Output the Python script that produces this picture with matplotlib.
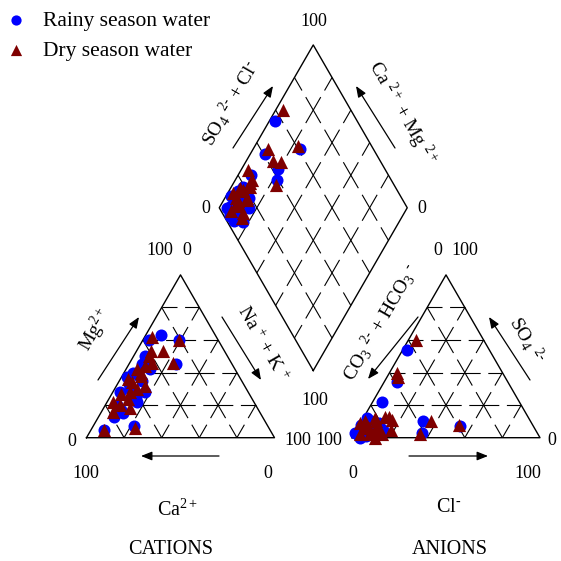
"""
    Piper diagram, rainy vs dry season water
"""

import numpy as np
import matplotlib
matplotlib.use('Agg')
import matplotlib.pyplot as plt

plt.rcParams['font.family'] = ['Liberation Serif', 'DejaVu Serif']
plt.rcParams['mathtext.fontset'] = 'custom'
plt.rcParams['mathtext.rm'] = 'Liberation Serif'
plt.rcParams['mathtext.it'] = 'Liberation Serif'
plt.rcParams['mathtext.default'] = 'regular'
plt.rcParams['lines.scale_dashes'] = False

# sample compositions in % meq (cations / anions)
rainy_ca = [37, 29, 30, 21, 71, 48, 88, 44, 45, 55, 53, 62, 61, 74, 73, 62, 68, 53, 79, 73, 45, 61, 60, 55]
rainy_mg = [60, 63, 45, 60, 7, 45, 5, 50, 45, 40, 35, 30, 25, 20, 17, 22, 28, 38, 13, 15, 42, 33, 37, 28]
rainy_nak = [3, 8, 25, 19, 22, 7, 7, 6, 10, 5, 12, 8, 14, 6, 10, 16, 4, 9, 8, 12, 13, 6, 3, 17]
rainy_hco3 = [44, 59, 39, 57, 61, 73, 96, 88, 93, 85, 89, 86, 84, 93, 91, 84, 96, 87, 97, 96, 81, 81, 90, 92]
rainy_so4 = [54, 34, 7, 10, 3, 22, 2, 8, 5, 10, 3, 12, 6, 2, 8, 4, 1, 6, 3, 0, 9, 5, 4, 1]
rainy_cl = [2, 7, 54, 33, 36, 5, 2, 4, 2, 5, 8, 2, 10, 5, 1, 12, 3, 7, 0, 4, 10, 14, 6, 7]

dry_ca = [34, 39, 31, 21, 71, 51, 88, 33, 42, 42, 52, 52, 59, 58, 68, 66, 72, 68, 75, 53, 60, 78, 47, 63]
dry_mg = [62, 53, 46, 60, 6, 40, 5, 53, 50, 46, 42, 38, 34, 30, 27, 24, 20, 18, 22, 32, 36, 16, 44, 28]
dry_nak = [4, 8, 23, 19, 23, 9, 7, 14, 8, 12, 6, 10, 7, 12, 5, 10, 8, 14, 3, 15, 4, 6, 9, 9]
dry_hco3 = [36, 56, 39, 53, 63, 76, 95, 57, 89, 82, 84, 89, 82, 83, 83, 77, 88, 89, 88, 91, 73, 88, 89, 74]
dry_so4 = [60, 40, 8, 10, 2, 13, 2, 37, 6, 10, 4, 8, 12, 2, 7, 5, 10, 3, 0, 9, 11, 6, 2, 13]
dry_cl = [4, 4, 53, 37, 35, 11, 3, 6, 5, 8, 12, 3, 6, 15, 10, 18, 2, 8, 12, 0, 16, 6, 9, 13]

labels = ['Rainy season water', 'Dry season water']

# layout (pixels, y down)
SIDE = 188.0
H = SIDE * np.sqrt(3) / 2
CAT = np.array([86.5, 437.7])     # left corner of cation triangle
AN = np.array([352.0, 437.7])     # left corner of anion triangle
GAP = AN[0] - (CAT[0] + SIDE)
DB = np.array([(CAT[0] + SIDE + AN[0]) / 2, CAT[1] - GAP * np.sqrt(3) / 2])  # diamond bottom


def cat_xy(ca, mg, nak):
    tot = np.array(ca) + np.array(mg) + np.array(nak)
    mg = np.array(mg) / tot
    nak = np.array(nak) / tot
    return CAT[0] + (nak + mg / 2) * SIDE, CAT[1] - mg * H


def an_xy(hco3, so4, cl):
    tot = np.array(hco3) + np.array(so4) + np.array(cl)
    so4 = np.array(so4) / tot
    cl = np.array(cl) / tot
    return AN[0] + (cl + so4 / 2) * SIDE, AN[1] - so4 * H


def dia_xy(camg, so4cl):
    a = np.array(camg) / 100.0
    b = np.array(so4cl) / 100.0
    return DB[0] + (b - a) * SIDE / 2, DB[1] - (a + b) * H


fig = plt.figure(figsize=(5.61, 5.61), dpi=100)
ax = fig.add_axes([0, 0, 1, 1])
ax.set_xlim(0, 561)
ax.set_ylim(561, 0)
ax.axis('off')

px = 72.0 / 100  # points per pixel
dash_on, dash_off = 30.0, 7.6
gstyle = (dash_on / 2 * px, (dash_on * px, dash_off * px))
gkw = dict(color='black', lw=0.8, linestyle=gstyle, dash_capstyle='butt')
okw = dict(color='black', lw=1.0)


def grid_line(x, y):
    ax.plot(x, y, **gkw)


levels = [20, 40, 60, 80]
for fn in (cat_xy, an_xy):
    xs, ys = fn([100, 0, 0, 100], [0, 100, 0, 0], [0, 0, 100, 0])
    ax.plot(xs, ys, **okw)
    for k in levels:
        r = 100 - k
        for p, q in (((r, k, 0), (0, k, r)), ((r, 0, k), (0, r, k)), ((k, r, 0), (k, 0, r))):
            grid_line(*fn([p[0], q[0]], [p[1], q[1]], [p[2], q[2]]))

xs, ys = dia_xy([0, 100, 100, 0, 0], [0, 0, 100, 100, 0])
ax.plot(xs, ys, **okw)
for k in levels:
    grid_line(*dia_xy([k, k], [0, 100]))
    grid_line(*dia_xy([0, 100], [k, k]))

# points
seasons = [
    (rainy_ca, rainy_mg, rainy_nak, rainy_hco3, rainy_so4, rainy_cl, '#0000ff', 'o', 75),
    (dry_ca, dry_mg, dry_nak, dry_hco3, dry_so4, dry_cl, '#7f0000', '^', 90),
]
handles = []
for (ca, mg, nak, hco3, so4, cl, col, mk, s), lab in zip(seasons, labels):
    x, y = cat_xy(ca, mg, nak)
    h = ax.scatter(x, y, s=s, c=col, marker=mk, linewidths=0, zorder=3, label=lab)
    x, y = an_xy(hco3, so4, cl)
    ax.scatter(x, y, s=s, c=col, marker=mk, linewidths=0, zorder=3)
    camg = np.array(ca) + np.array(mg)
    so4cl = np.array(so4) + np.array(cl)
    x, y = dia_xy(camg, so4cl)
    ax.scatter(x, y, s=s, c=col, marker=mk, linewidths=0, zorder=3)
    handles.append(h)

fig.legend(handles=handles, loc='upper left', bbox_to_anchor=(-0.006, 1.0), frameon=False,
           fontsize=15.5, handletextpad=0.85, labelspacing=0.45, borderaxespad=0.1,
           handlelength=0.8, scatterpoints=1, markerscale=0.85)

# arrows
akw = dict(arrowstyle='-|>,head_length=0.55,head_width=0.22', color='black', lw=0.9,
           shrinkA=0, shrinkB=0, mutation_scale=12)
arrows = [((233, 148), (273, 86)), ((395, 148), (356, 86)),
          ((98, 380), (139, 317)), ((222, 317), (261, 380)), ((219, 456), (141, 456)),
          ((409, 456), (488, 456)), ((418, 317), (368, 379)), ((530, 380), (489, 317))]
for a, b in arrows:
    ax.annotate('', xy=b, xytext=a, arrowprops=akw)

# tick numbers
tfs = 13
ticks = [('100', 314, 21), ('0', 206, 208), ('0', 422, 208), ('100', 315, 400),
         ('0', 72, 441), ('100', 160, 250), ('0', 187, 250), ('100', 298, 440),
         ('100', 86, 473), ('0', 268, 473),
         ('100', 329, 440), ('0', 438, 250), ('100', 465, 250), ('0', 552, 440),
         ('0', 353, 473), ('100', 528, 473)]
for t, x, y in ticks:
    ax.text(x, y, t, fontsize=tfs, ha='center', va='center')

# axis names
lfs = 14
hy = '\u2010'
rot = dict(fontsize=lfs, ha='center', va='center', rotation_mode='anchor')
ax.text(230, 103, 'SO$_4$ $^{2' + hy + '}$ + Cl$^{' + hy + '}$', rotation=60, **rot)
ax.text(402, 113, r'Ca $^{2+}$ + Mg $^{2+}$', rotation=-60, **rot)
ax.text(95, 330, r'Mg$^{2+}$', rotation=60, **rot)
ax.text(263, 344, r'Na $^{+}$ + K $^{+}$', rotation=-60, **rot)
ax.text(381, 322, 'CO$_3$ $^{2' + hy + '}$ + HCO$_3$ $^{' + hy + '}$', rotation=60, **rot)
ax.text(527, 340, 'SO$_4$ $^{2' + hy + '}$', rotation=-60, **rot)
ax.text(178, 510, r'Ca$^{2+}$', fontsize=14.5, ha='center', va='center')
ax.text(449, 507, 'Cl$^{' + hy + '}$', fontsize=14.5, ha='center', va='center')
ax.text(171, 549, 'CATIONS', fontsize=14.5, ha='center', va='center')
ax.text(450, 549, 'ANIONS', fontsize=14.5, ha='center', va='center')

plt.savefig('out.png', dpi=100)
